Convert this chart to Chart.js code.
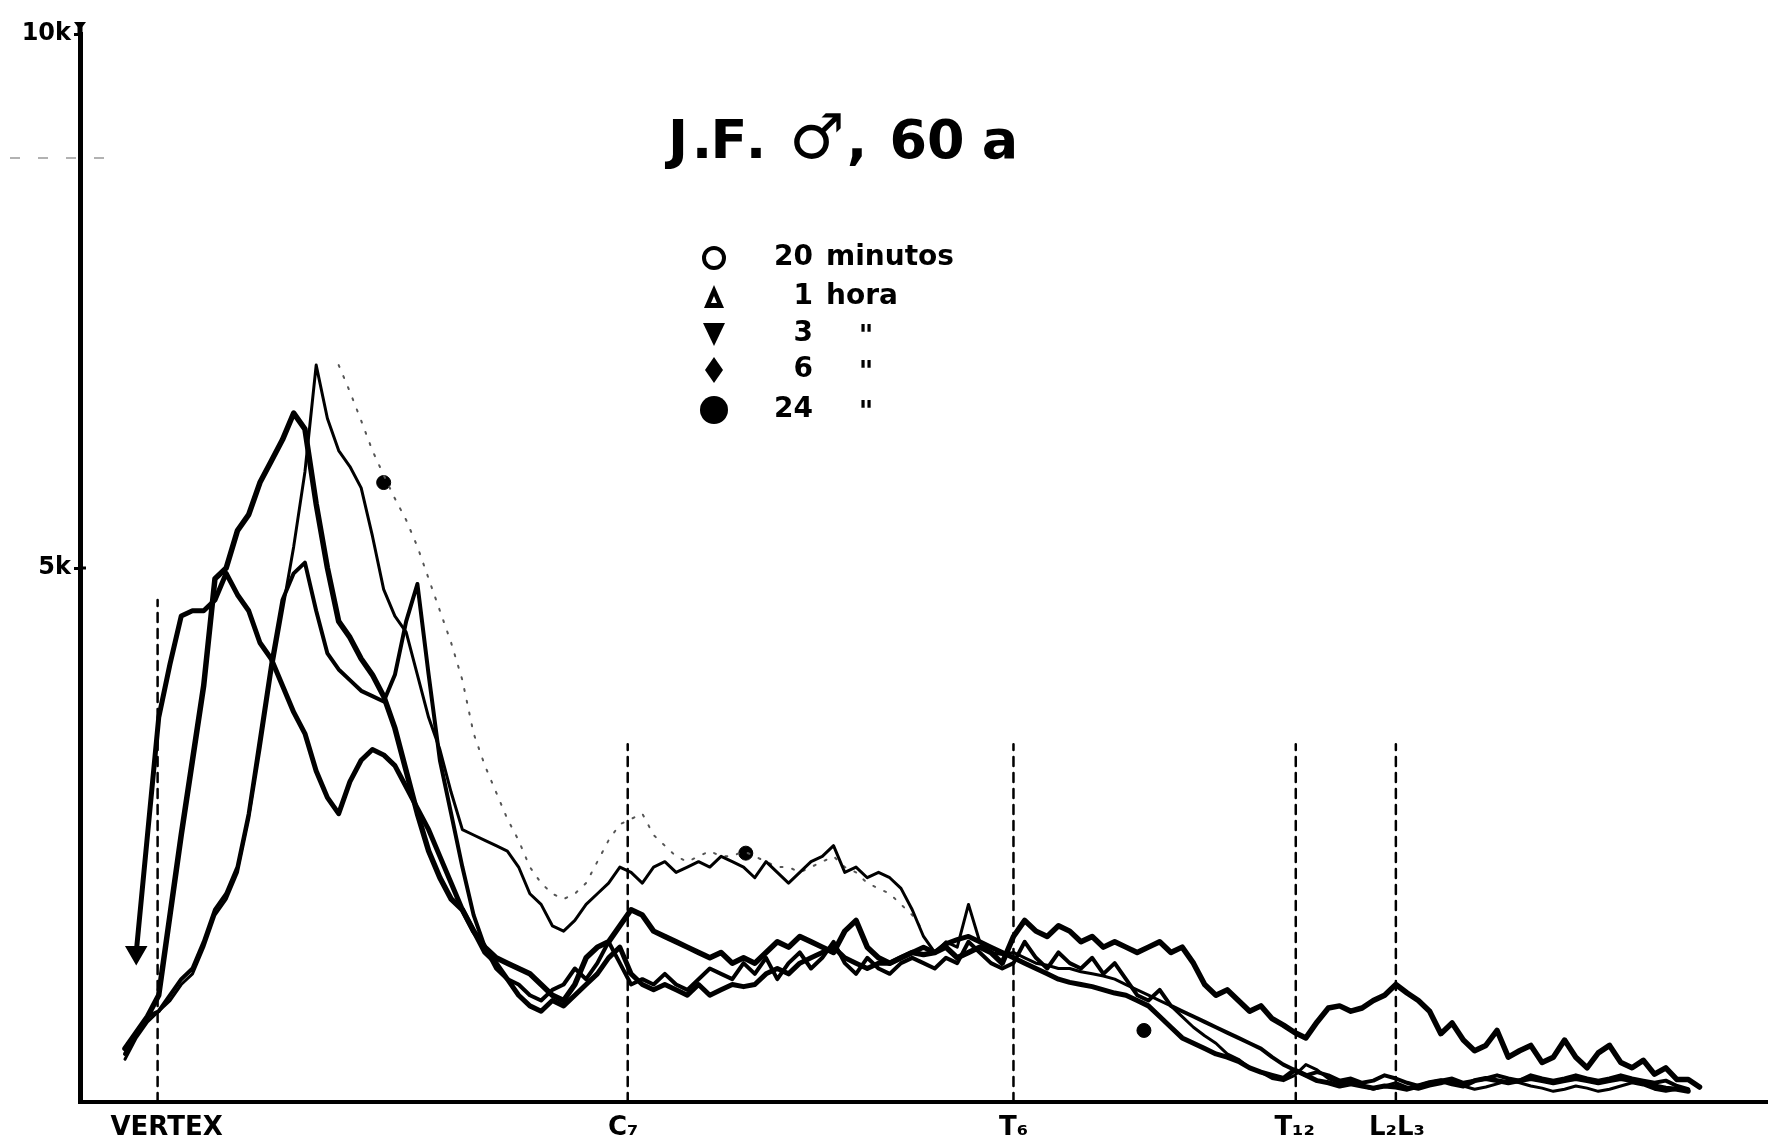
<!DOCTYPE html>
<html>
<head>
<meta charset="utf-8">
<script src="https://cdn.jsdelivr.net/npm/chart.js@4.4.1/dist/chart.umd.min.js"></script>
<style>
  html, body { margin: 0; padding: 0; background: #fff; }
  #wrap { width: 1775px; height: 1146px; }
</style>
</head>
<body>
<div id="wrap"><canvas id="chart" width="1775" height="1146"></canvas></div>
<script>
// sample positions along the spine (arbitrary units, axis runs 0..150)
const xPos = [
  4, 5, 6, 7, 8, 9, 10, 11, 12, 13,
  14, 15, 16, 17, 18, 19, 20, 21, 22, 23,
  24, 25, 26, 27, 28, 29, 30, 31, 32, 33,
  34, 35, 36, 37, 38, 39, 40, 41, 42, 43,
  44, 45, 46, 47, 48, 49, 50, 51, 52, 53,
  54, 55, 56, 57, 58, 59, 60, 61, 62, 63,
  64, 65, 66, 67, 68, 69, 70, 71, 72, 73,
  74, 75, 76, 77, 78, 79, 80, 81, 82, 83,
  84, 85, 86, 87, 88, 89, 90, 91, 92, 93,
  94, 95, 96, 97, 98, 99, 100, 101, 102, 103,
  104, 105, 106, 107, 108, 109, 110, 111, 112, 113,
  114, 115, 116, 117, 118, 119, 120, 121, 122, 123,
  124, 125, 126, 127, 128, 129, 130, 131, 132, 133,
  134, 135, 136, 137, 138, 139, 140, 141, 142, 143,
  144
];

// counts in thousands
const min20 = [
  0.4, 0.6, 0.75, 0.85, 0.95, 1.1, 1.2, 1.45, 1.75, 1.9,
  2.15, 2.65, 3.3, 4.0, 4.6, 5.2, 5.9, 6.9, 6.4, 6.1,
  5.95, 5.75, 5.3, 4.8, 4.55, 4.4, 4.0, 3.6, 3.3, 2.9,
  2.55, 2.5, 2.45, 2.4, 2.35, 2.2, 1.95, 1.85, 1.65, 1.6,
  1.7, 1.85, 1.95, 2.05, 2.2, 2.15, 2.05, 2.2, 2.25, 2.15,
  2.2, 2.25, 2.2, 2.3, 2.25, 2.2, 2.1, 2.25, 2.15, 2.05,
  2.15, 2.25, 2.3, 2.4, 2.15, 2.2, 2.1, 2.15, 2.1, 2.0,
  1.8, 1.55, 1.4, 1.5, 1.45, 1.85, 1.5, 1.4, 1.38, 1.4,
  1.35, 1.3, 1.28, 1.25, 1.25, 1.22, 1.2, 1.18, 1.15, 1.1,
  1.05, 1.0, 0.95, 0.9, 0.8, 0.7, 0.62, 0.55, 0.45, 0.4,
  0.32, 0.28, 0.22, 0.2, 0.25, 0.35, 0.3, 0.22, 0.18, 0.2,
  0.15, 0.12, 0.15, 0.18, 0.14, 0.12, 0.15, 0.17, 0.2, 0.15,
  0.12, 0.14, 0.17, 0.2, 0.18, 0.15, 0.13, 0.1, 0.12, 0.15,
  0.13, 0.1, 0.12, 0.15, 0.18, 0.16, 0.12, 0.1, 0.12, 0.1,
  null
];

const hora1 = [
  0.45, 0.65, 0.8, 0.85, 1.0, 1.15, 1.25, 1.5, 1.8, 1.95,
  2.2, 2.7, 3.4, 4.1, 4.7, 4.95, 5.05, 4.6, 4.2, 4.05,
  3.95, 3.85, 3.8, 3.75, 4.0, 4.5, 4.85, 4.0, 3.2, 2.7,
  2.2, 1.75, 1.45, 1.25, 1.15, 1.1, 1.0, 0.95, 1.05, 1.1,
  1.25, 1.15, 1.3, 1.5, 1.3, 1.1, 1.15, 1.1, 1.2, 1.1,
  1.05, 1.15, 1.25, 1.2, 1.15, 1.3, 1.2, 1.35, 1.15, 1.3,
  1.4, 1.25, 1.35, 1.5, 1.3, 1.2, 1.35, 1.25, 1.2, 1.3,
  1.35, 1.3, 1.25, 1.35, 1.3, 1.5, 1.4, 1.3, 1.25, 1.3,
  1.5, 1.35, 1.25, 1.4, 1.3, 1.25, 1.35, 1.2, 1.3, 1.15,
  1.0, 0.95, 1.05, 0.9, 0.85, 0.8, 0.75, 0.7, 0.65, 0.6,
  0.55, 0.5, 0.42, 0.35, 0.3, 0.25, 0.28, 0.25, 0.2, 0.22,
  0.18, 0.2, 0.25, 0.22, 0.18, 0.15, 0.18, 0.2, 0.22, 0.18,
  0.2, 0.22, 0.25, 0.22, 0.2, 0.25, 0.22, 0.2, 0.22, 0.25,
  0.22, 0.2, 0.22, 0.25, 0.22, 0.2, 0.18, 0.2, 0.15, 0.12,
  null
];

const hora3 = [
  null, 1.4, 2.5, 3.6, 4.1, 4.55, 4.6, 4.6, 4.7, 4.95,
  4.75, 4.6, 4.3, 4.15, 3.9, 3.65, 3.45, 3.1, 2.85, 2.7,
  3.0, 3.2, 3.3, 3.25, 3.15, 2.95, 2.75, 2.55, 2.3, 2.05,
  1.8, 1.6, 1.4, 1.3, 1.15, 1.0, 0.9, 0.85, 0.95, 0.9,
  1.0, 1.1, 1.2, 1.35, 1.45, 1.2, 1.1, 1.05, 1.1, 1.05,
  1.0, 1.1, 1.0, 1.05, 1.1, 1.08, 1.1, 1.2, 1.25, 1.2,
  1.3, 1.35, 1.4, 1.45, 1.35, 1.3, 1.25, 1.3, 1.3, 1.35,
  1.4, 1.45, 1.4, 1.48, 1.52, 1.55, 1.5, 1.45, 1.4, 1.35,
  1.3, 1.25, 1.2, 1.15, 1.12, 1.1, 1.08, 1.05, 1.02, 1.0,
  0.95, 0.9, 0.8, 0.7, 0.6, 0.55, 0.5, 0.45, 0.42, 0.38,
  0.32, 0.28, 0.25, 0.22, 0.3, 0.25, 0.2, 0.18, 0.15, 0.17,
  0.15, 0.13, 0.15, 0.14, 0.12, 0.15, 0.18, 0.2, 0.17, 0.15,
  0.2, 0.22, 0.2, 0.18, 0.2, 0.22, 0.2, 0.18, 0.2, 0.22,
  0.2, 0.18, 0.2, 0.22, 0.2, 0.18, 0.15, 0.13, 0.12, 0.1,
  null
];

const hora6 = [
  0.5, 0.65, 0.8, 1.0, 1.75, 2.5, 3.2, 3.9, 4.9, 5.0,
  5.35, 5.5, 5.8, 6.0, 6.2, 6.45, 6.3, 5.6, 5.0, 4.5,
  4.35, 4.15, 4.0, 3.8, 3.5, 3.1, 2.7, 2.35, 2.1, 1.9,
  1.8, 1.6, 1.45, 1.35, 1.3, 1.25, 1.2, 1.1, 1.0, 0.95,
  1.1, 1.35, 1.45, 1.5, 1.65, 1.8, 1.75, 1.6, 1.55, 1.5,
  1.45, 1.4, 1.35, 1.4, 1.3, 1.35, 1.3, 1.4, 1.5, 1.45,
  1.55, 1.5, 1.45, 1.4, 1.6, 1.7, 1.45, 1.35, 1.3, 1.35,
  1.4, 1.38, 1.4, 1.45, 1.35, 1.4, 1.45, 1.4, 1.3, 1.55,
  1.7, 1.6, 1.55, 1.65, 1.6, 1.5, 1.55, 1.45, 1.5, 1.45,
  1.4, 1.45, 1.5, 1.4, 1.45, 1.3, 1.1, 1.0, 1.05, 0.95,
  0.85, 0.9, 0.78, 0.72, 0.65, 0.6, 0.75, 0.88, 0.9, 0.85,
  0.88, 0.95, 1.0, 1.1, 1.02, 0.95, 0.85, 0.64, 0.74, 0.58,
  0.48, 0.53, 0.67, 0.42, 0.48, 0.53, 0.37, 0.42, 0.58, 0.42,
  0.32, 0.46, 0.53, 0.37, 0.32, 0.39, 0.26, 0.32, 0.21, 0.21,
  0.14
];

const hora24 = [
  null, null, null, null, null, null, null, null, null, null,
  null, null, null, null, null, null, null, null, null, 6.9,
  6.65, 6.38, 6.1, 5.87, 5.65, 5.45, 5.2, 4.9, 4.6, 4.3,
  3.95, 3.45, 3.15, 2.9, 2.65, 2.45, 2.2, 2.05, 1.95, 1.9,
  1.95, 2.05, 2.25, 2.45, 2.6, 2.65, 2.7, 2.5, 2.4, 2.3,
  2.25, 2.3, 2.35, 2.3, 2.3, 2.35, 2.3, 2.25, 2.2, 2.2,
  2.15, 2.2, 2.25, 2.3, 2.2, 2.15, 2.05, 2.0, 1.95, 1.85,
  1.75, 1.6, null, null, null, null, null, null, null, null,
  null, null, null, null, null, null, null, null, null, null,
  null, null, null, null, null, null, null, null, null, null,
  null, null, null, null, null, null, null, null, null, null,
  null, null, null, null, null, null, null, null, null, null,
  null, null, null, null, null, null, null, null, null, null,
  null, null, null, null, null, null, null, null, null, null,
  null
];

// loose "24 h" dots printed on the sheet
const dots24X = [27.0, 59.2, 94.6];
const dots24Y = [5.8, 2.33, 0.67];

// vertebral landmarks: dashed line positions, label positions, line heights
const levelNames = ['VERTEX', 'C\u2087', 'T\u2086', 'T\u2081\u2082', 'L\u2082L\u2083'];
const levelPos = [6.9, 48.7, 83.0, 108.1, 117.0];
const levelLabelPos = [7.7, 48.3, 83.0, 108.0, 117.1];
const levelTops = [4.7, 3.35, 3.35, 3.35, 3.35];

const yTickVals = [5, 10];
const yTickLabels = ['5k', '10k'];

const legendNums = ['20', '1', '3', '6', '24'];
const legendWords = ['minutos', 'hora', '"', '"', '"'];

const INK = '#000';
const FONT = '"DejaVu Sans", "Liberation Sans", sans-serif';

function pts(arr) {
  return xPos.map((x, i) => ({ x: x, y: arr[i] }));
}

const firstIdx3 = hora3.findIndex(v => v !== null);

const levelSets = levelPos.map((p, i) => ({
  data: [{ x: p, y: 0 }, { x: p, y: levelTops[i] }],
  borderColor: INK,
  borderWidth: 2.5,
  borderDash: [9, 7],
  pointRadius: 0,
}));

const paperArt = {
  id: 'paperArt',
  afterDraw(chart) {
    const { ctx, scales: { x, y } } = chart;
    ctx.save();
    ctx.fillStyle = INK;
    ctx.strokeStyle = INK;

    // top of the y axis with its little arrowhead
    ctx.lineWidth = 5;
    ctx.beginPath();
    ctx.moveTo(x.left, y.top);
    ctx.lineTo(x.left, y.top - 10);
    ctx.stroke();
    ctx.beginPath();
    ctx.moveTo(x.left - 6, y.top - 12);
    ctx.lineTo(x.left + 6, y.top - 12);
    ctx.lineTo(x.left, y.top - 4);
    ctx.fill();

    // small tick on the right of the axis at 5k
    ctx.lineWidth = 3;
    ctx.beginPath();
    ctx.moveTo(x.left, y.getPixelForValue(5));
    ctx.lineTo(x.left + 6, y.getPixelForValue(5));
    ctx.stroke();

    // faint dashed marker left of the axis
    ctx.strokeStyle = '#999';
    ctx.lineWidth = 1.5;
    ctx.setLineDash([10, 18]);
    ctx.beginPath();
    const yy = y.getPixelForValue(8.84);
    ctx.moveTo(10, yy);
    ctx.lineTo(105, yy);
    ctx.stroke();
    ctx.setLineDash([]);
    ctx.strokeStyle = INK;

    // title, spaced out like the hand lettering
    ctx.textAlign = 'center';
    ctx.textBaseline = 'alphabetic';
    const parts = [['J', 678], ['.', 702], ['F', 729], ['.', 756], ['\u2642', 817], [',', 857], ['60', 927], ['a', 1000]];
    parts.forEach(([t, px]) => {
      ctx.font = (t === '\u2642' ? 'bold 62px ' : 'bold 54px ') + FONT;
      ctx.fillText(t, px, 158);
    });

    // legend
    const rows = [258, 297, 334, 370, 410];
    const sx = 714;
    ctx.lineWidth = 4;
    ctx.beginPath();
    ctx.arc(sx, rows[0], 10, 0, Math.PI * 2);
    ctx.stroke();
    ctx.beginPath();
    ctx.moveTo(sx, rows[1] - 12);
    ctx.lineTo(sx + 10, rows[1] + 11);
    ctx.lineTo(sx - 10, rows[1] + 11);
    ctx.closePath();
    ctx.fill();
    ctx.fillStyle = '#fff';
    ctx.beginPath();
    ctx.moveTo(sx, rows[1] - 1);
    ctx.lineTo(sx + 3, rows[1] + 6);
    ctx.lineTo(sx - 3, rows[1] + 6);
    ctx.closePath();
    ctx.fill();
    ctx.fillStyle = INK;
    ctx.beginPath();
    ctx.moveTo(sx - 11, rows[2] - 11);
    ctx.lineTo(sx + 11, rows[2] - 11);
    ctx.lineTo(sx, rows[2] + 12);
    ctx.closePath();
    ctx.fill();
    ctx.beginPath();
    ctx.moveTo(sx, rows[3] - 13);
    ctx.lineTo(sx + 9, rows[3]);
    ctx.lineTo(sx, rows[3] + 13);
    ctx.lineTo(sx - 9, rows[3]);
    ctx.closePath();
    ctx.fill();
    ctx.beginPath();
    ctx.arc(sx, rows[4], 14, 0, Math.PI * 2);
    ctx.fill();

    ctx.font = 'bold 28px ' + FONT;
    ctx.textBaseline = 'middle';
    legendNums.forEach((n, i) => {
      ctx.textAlign = 'right';
      ctx.fillText(n, 813, rows[i]);
      if (legendWords[i] === '"') {
        ctx.textAlign = 'center';
        ctx.fillText('"', 866, rows[i] + 4);
      } else {
        ctx.textAlign = 'left';
        ctx.fillText(legendWords[i], 826, rows[i]);
      }
    });
    ctx.restore();
  }
};

new Chart(document.getElementById('chart'), {
  type: 'line',
  data: {
    datasets: [
      {
        label: '20 minutos',
        data: pts(min20),
        borderColor: INK,
        borderWidth: 3,
        pointRadius: 0,
      },
      {
        label: '1 hora',
        data: pts(hora1),
        borderColor: INK,
        borderWidth: 4,
        pointRadius: 0,
      },
      {
        label: '3 horas',
        data: pts(hora3),
        borderColor: INK,
        borderWidth: 5,
        pointStyle: 'triangle',
        rotation: 180,
        backgroundColor: INK,
        pointRadius: (c) => (c.dataIndex === firstIdx3 ? 8 : 0),
      },
      {
        label: '6 horas',
        data: pts(hora6),
        borderColor: INK,
        borderWidth: 5.5,
        pointRadius: 0,
      },
      {
        label: '24 horas',
        data: pts(hora24),
        borderColor: '#555',
        borderWidth: 2,
        borderDash: [2, 10],
        pointRadius: 0,
      },
      {
        label: '24 horas (marks)',
        data: dots24X.map((v, i) => ({ x: v, y: dots24Y[i] })),
        showLine: false,
        pointRadius: 7,
        backgroundColor: INK,
        borderColor: INK,
      },
      ...levelSets,
    ],
  },
  options: {
    responsive: false,
    animation: false,
    devicePixelRatio: 1,
    layout: { padding: { top: 34, right: 0, left: 0, bottom: 0 } },
    elements: {
      line: { tension: 0, borderJoinStyle: 'round', borderCapStyle: 'round', fill: false },
    },
    plugins: {
      legend: { display: false },
      tooltip: { enabled: false },
    },
    scales: {
      x: {
        type: 'linear',
        min: 0,
        max: 150,
        grid: { display: false },
        border: { display: true, color: INK, width: 4 },
        afterBuildTicks: (scale) => {
          scale.ticks = levelLabelPos.map(v => ({ value: v }));
        },
        afterFit: (scale) => { scale.height = 44; },
        ticks: {
          autoSkip: false,
          maxRotation: 0,
          padding: 3,
          color: INK,
          font: { family: FONT, size: 26, weight: 'bold' },
          callback: (v) => levelNames[levelLabelPos.indexOf(v)],
        },
      },
      y: {
        min: 0,
        max: 10,
        grid: {
          display: true,
          drawOnChartArea: false,
          drawTicks: true,
          tickLength: 6,
          color: INK,
          lineWidth: 3,
        },
        border: { display: true, color: INK, width: 5 },
        afterBuildTicks: (scale) => {
          scale.ticks = yTickVals.map(v => ({ value: v }));
        },
        afterFit: (scale) => { scale.width = 80; },
        ticks: {
          padding: 3,
          color: INK,
          font: { family: FONT, size: 24, weight: 'bold' },
          callback: (v) => yTickLabels[yTickVals.indexOf(v)],
        },
      },
    },
  },
  plugins: [paperArt],
});
</script>
</body>
</html>
